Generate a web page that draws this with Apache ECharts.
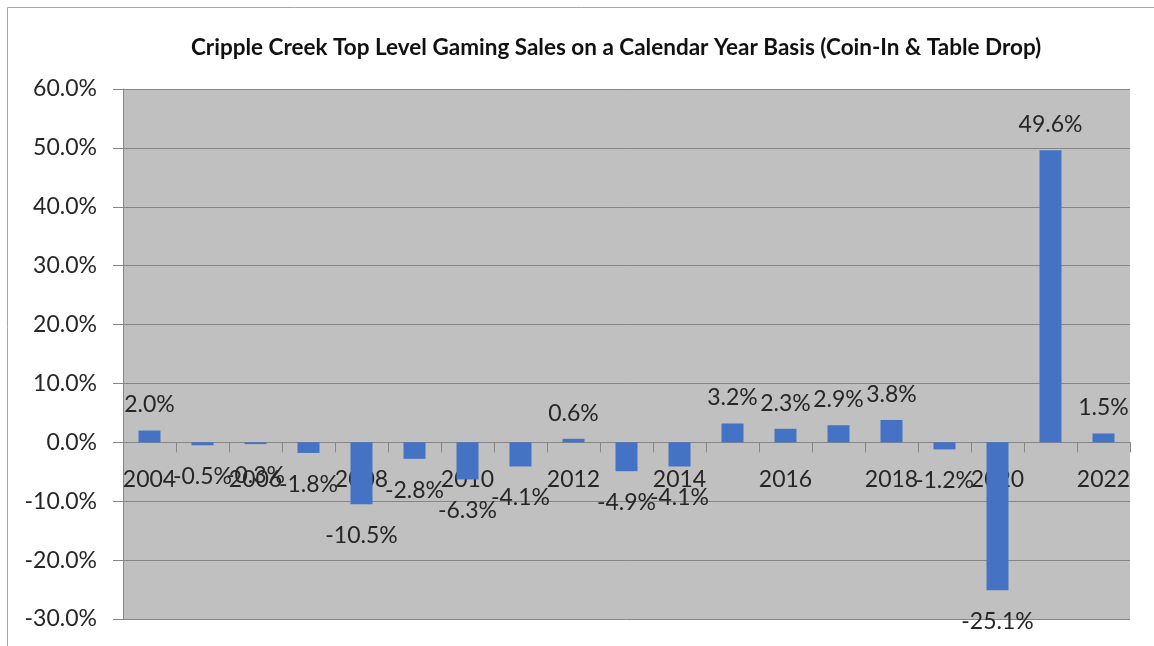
<!DOCTYPE html>
<html>
<head>
<meta charset="utf-8">
<script src="https://cdn.jsdelivr.net/npm/echarts@6/dist/echarts.min.js"></script>
<style>
  html, body { margin: 0; padding: 0; background: #ffffff; }
  #chart { width: 1154px; height: 646px; }
</style>
</head>
<body>
<div id="chart"></div>
<script>
// Year-over-year change in Cripple Creek gaming sales (percent)
const years = ['2004', '2005', '2006', '2007', '2008', '2009', '2010', '2011', '2012', '2013',
               '2014', '2015', '2016', '2017', '2018', '2019', '2020', '2021', '2022'];
const changePct = [2.0, -0.5, -0.3, -1.8, -10.5, -2.8, -6.3, -4.1, 0.6, -4.9,
                   -4.1, 3.2, 2.3, 2.9, 3.8, -1.2, -25.1, 49.6, 1.5];
const yTicks = { min: -30, max: 60, step: 10 };

const FONT = 'Lato';
const TEXT = '#262626';
const AXIS_GRAY = '#868686';

const pct = v => Number(v).toFixed(1) + '%';

// Negative bars carry their label beneath the bar end, positive ones above it
const barData = changePct.map(v => ({
  value: v,
  label: v < 0 ? { position: 'bottom', distance: 20 } : { position: 'top', distance: 14 }
}));

const chart = echarts.init(document.getElementById('chart'), null, { renderer: 'canvas' });

const yearLabelStyle = {
  interval: 1,
  margin: 26,
  hideOverlap: false,
  fontFamily: FONT, fontSize: 23, color: TEXT
};

chart.setOption({
  backgroundColor: '#ffffff',
  animation: false,
  title: {
    text: 'Cripple Creek Top Level Gaming Sales on a Calendar Year Basis (Coin-In & Table Drop)',
    left: 186,
    top: 31,
    textStyle: { fontFamily: FONT, fontWeight: 'bold', fontSize: 22.5, color: '#111111' }
  },
  graphic: [{
    type: 'rect',
    shape: { x: 7.5, y: 7.5, width: 1200, height: 700 },
    style: { fill: 'none', stroke: '#a6a6a6', lineWidth: 1 },
    silent: true,
    z: -1
  }],
  grid: {
    left: 123, right: 24, top: 89, bottom: 27,
    outerBoundsMode: 'none',
    containLabel: false,
    show: true,
    backgroundColor: '#c0c0c0',
    borderWidth: 0
  },
  xAxis: [{
    // category axis drawn across the zero line
    type: 'category',
    data: years,
    axisLine: { show: true, onZero: true, onZeroAxisIndex: 0, lineStyle: { color: AXIS_GRAY, width: 1 } },
    axisTick: { show: true, alignWithLabel: false, interval: 0, length: 10, lineStyle: { color: AXIS_GRAY } },
    axisLabel: { show: false },
    splitLine: { show: false }
  }, {
    // year labels, shifted up to sit under the zero line
    type: 'category',
    data: years,
    position: 'bottom',
    offset: 0,
    axisLine: { show: false, onZero: false },
    axisTick: { show: false },
    axisLabel: yearLabelStyle,
    splitLine: { show: false }
  }],
  yAxis: {
    type: 'value',
    min: yTicks.min, max: yTicks.max, interval: yTicks.step,
    axisLine: { show: true, lineStyle: { color: AXIS_GRAY, width: 1 } },
    axisTick: { show: true, length: 10, lineStyle: { color: AXIS_GRAY } },
    axisLabel: {
      margin: 26,
      formatter: v => pct(v),
      fontFamily: FONT, fontSize: 23, color: TEXT
    },
    splitLine: { show: true, lineStyle: { color: AXIS_GRAY, width: 1 } }
  },
  series: [{
    type: 'bar',
    data: barData,
    barWidth: 22,
    itemStyle: { color: '#4472c4' },
    label: {
      show: true,
      formatter: p => pct(p.value),
      fontFamily: FONT, fontSize: 23, color: TEXT
    }
  }]
});

// Move the year labels from the grid floor up to the zero line
const zeroY = chart.convertToPixel({ yAxisIndex: 0 }, 0);
const floorY = chart.convertToPixel({ yAxisIndex: 0 }, yTicks.min);
chart.setOption({ xAxis: [{}, { offset: -(floorY - zeroY) }] });
</script>
</body>
</html>
